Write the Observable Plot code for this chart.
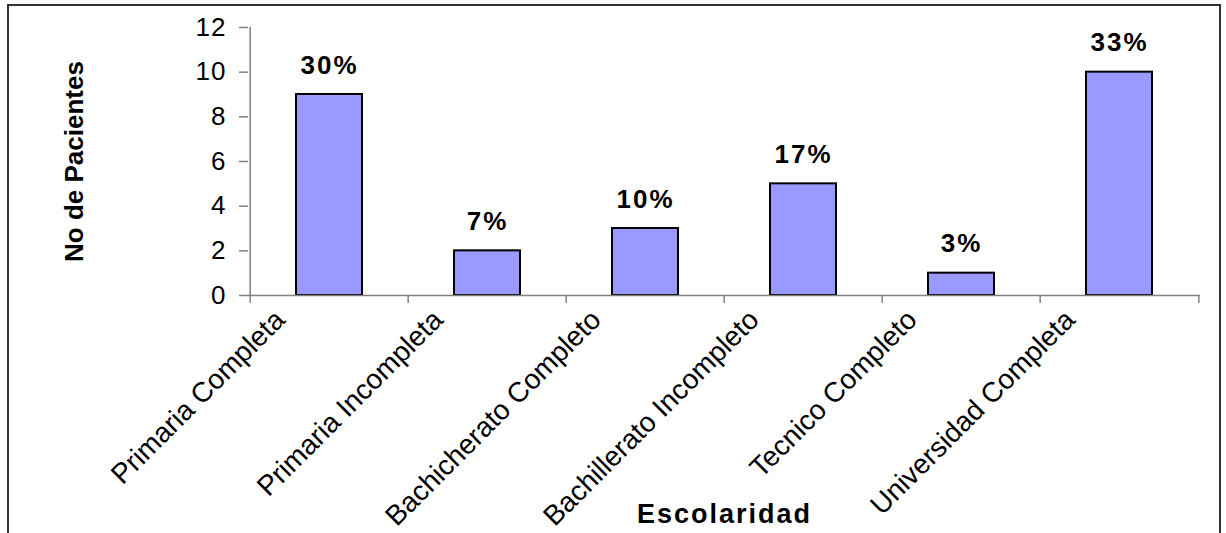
<!DOCTYPE html>
<html>
<head>
<meta charset="utf-8">
<script src="https://cdn.jsdelivr.net/npm/d3@7"></script>
<script src="https://cdn.jsdelivr.net/npm/@observablehq/plot@0.6"></script>
<style>
  body { margin: 0; background: #fff; }
  #chart { position: relative; width: 1226px; height: 533px; overflow: hidden; }
  #chart svg { position: absolute; left: 0; top: 0; }
  #border { position: absolute; left: 7px; top: 4px; width: 1214px; height: 600px;
            border: 2px solid #333; box-sizing: border-box; pointer-events: none; }
  #chart svg [aria-label="y-axis tick label"] text { letter-spacing: 1px; }
  #chart svg g.share text { letter-spacing: 2px; }
  #chart svg g.xtitle text { letter-spacing: 2px; }
</style>
</head>
<body>
<div id="chart"><div id="border"></div></div>
<script>
// Education level of the patients
const categories = [
  "Primaria Completa",
  "Primaria Incompleta",
  "Bachicherato Completo",
  "Bachillerato Incompleto",
  "Tecnico Completo",
  "Universidad Completa"
];
const patients = [9, 2, 3, 5, 1, 10];
const shares = ["30%", "7%", "10%", "17%", "3%", "33%"];
const yTicks = [0, 2, 4, 6, 8, 10, 12];
const yTitle = "No de Pacientes";
const xTitle = "Escolaridad";

const rows = categories.map((c, i) => ({escolaridad: c, pacientes: patients[i], share: shares[i]}));

const width = 1226, height = 533;
const marginLeft = 248, marginRight = 26, marginTop = 27, marginBottom = 238;
const step = (width - marginLeft - marginRight) / categories.length;
const font = "'Liberation Sans', Arial, Helvetica, sans-serif";
const axisGray = "#808080";

const chart = Plot.plot({
  width, height, marginLeft, marginRight, marginTop, marginBottom,
  style: {fontFamily: font, background: "transparent", overflow: "visible", color: "#000"},
  x: {domain: categories, padding: 0, label: null, axis: null},
  y: {domain: [0, 12], label: null},
  marks: [
    // bars
    Plot.barY(rows, {
      x: "escolaridad", y: "pacientes",
      fill: "#9999ff", stroke: "#000", strokeWidth: 2,
      insetLeft: 46, insetRight: 46
    }),
    // category axis line and boundary ticks
    Plot.ruleY([0], {stroke: axisGray, strokeWidth: 1.5}),
    Plot.ruleX(categories, {x: d => d, dx: -step / 2, y1: 0, y2: 0, insetBottom: -8, stroke: axisGray, strokeWidth: 1.5}),
    Plot.ruleX(categories.slice(-1), {x: d => d, dx: step / 2, y1: 0, y2: 0, insetBottom: -8, stroke: axisGray, strokeWidth: 1.5}),
    // value axis line
    Plot.ruleX(categories.slice(0, 1), {x: d => d, dx: -step / 2, y1: 0, y2: 12, stroke: axisGray, strokeWidth: 1.5}),
    Plot.axisY({
      ticks: yTicks, tickSize: 9, tickPadding: 13, fontSize: 26,
      stroke: axisGray, strokeWidth: 1.5, fill: "#000", label: null
    }),
    // rotated category labels, right end tucked under each category
    Plot.text(categories, {
      x: d => d, frameAnchor: "bottom", rotate: -45,
      textAnchor: "end", lineAnchor: "top", dx: -57, dy: 12,
      fontSize: 28, fill: "#000"
    }),
    // percentage labels above the bars
    Plot.text(rows, {
      x: "escolaridad", y: "pacientes", text: "share",
      dy: -21, lineAnchor: "bottom",
      fontWeight: "bold", fontSize: 26, fill: "#000", className: "share"
    }),
    // axis titles
    Plot.text([yTitle], {
      frameAnchor: "left", dx: -174, rotate: -90, textAnchor: "middle",
      fontWeight: "bold", fontSize: 26, fill: "#000"
    }),
    Plot.text([xTitle], {
      frameAnchor: "bottom", dy: 227, lineAnchor: "bottom",
      fontWeight: "bold", fontSize: 27, fill: "#000", className: "xtitle"
    })
  ]
});

document.getElementById("chart").prepend(chart);
</script>
</body>
</html>
